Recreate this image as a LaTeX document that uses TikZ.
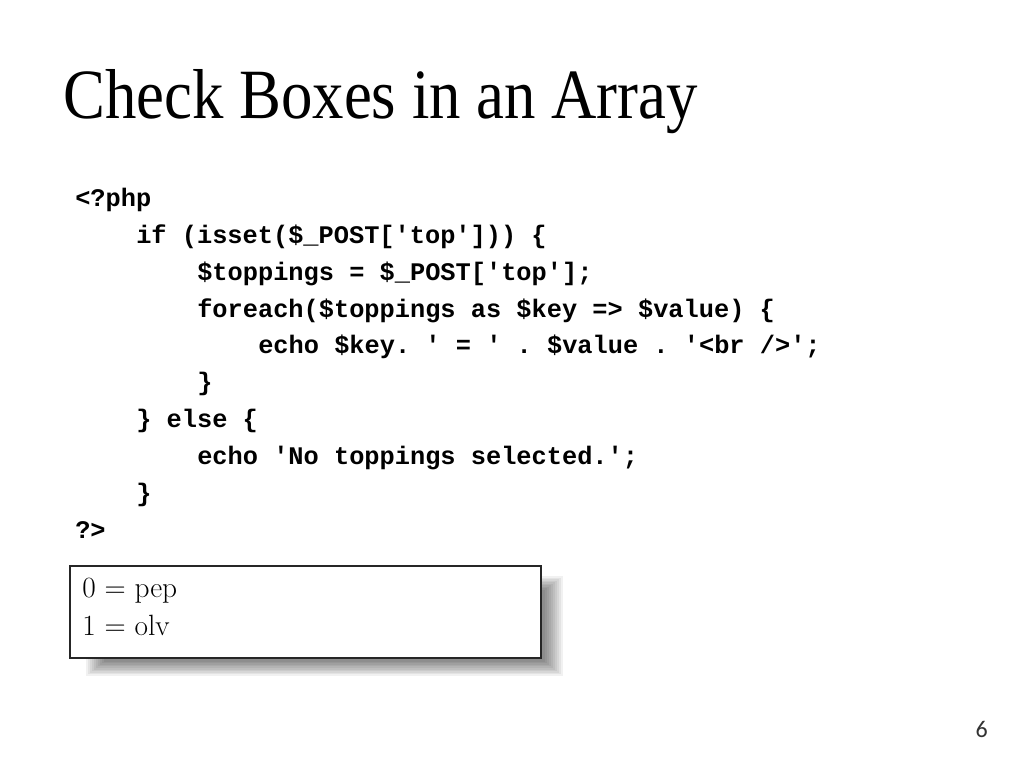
\documentclass[tikz,border=0pt]{standalone}
\usepackage{fontspec}
\setmainfont{Liberation Serif}
\newfontfamily\codefont{Liberation Mono}
\newfontfamily\numfont{Carlito}
\newfontfamily\lmfont{Latin Modern Roman}
\begin{document}
\begin{tikzpicture}[x=0.75pt,y=-0.75pt,
  codeline/.style={anchor=base west,inner sep=0pt,font=\codefont\bfseries\frenchspacing\fontsize{19}{19}\selectfont},
  outline/.style={anchor=base west,inner sep=0pt,font=\lmfont\fontsize{22}{22}\selectfont}]
\useasboundingbox[fill=white] (0,0) rectangle (1024,768);
% title
\node[anchor=base west,inner sep=0pt] (title) at (63,118)
  {\resizebox{476pt}{\height}{\fontsize{53}{53}\selectfont Check Boxes in an Array}};
% code
\node[codeline] (l1) at (75,206) {<?php};
\node[codeline] (l2) at (136,243) {if (isset(\$\_POST['top'])) \{};
\node[codeline] (l3) at (197,280) {\$toppings = \$\_POST['top'];};
\node[codeline] (l4) at (197,317) {foreach(\$toppings as \$key => \$value) \{};
\node[codeline] (l5) at (258,353) {echo \$key. ' = ' . \$value . '<br />';};
\node[codeline] (l6) at (197,390) {\}};
\node[codeline] (l7) at (136,427) {\} else \{};
\node[codeline] (l8) at (197,464) {echo 'No toppings selected.';};
\node[codeline] (l9) at (136,501) {\}};
\node[codeline] (l10) at (75,538) {?>};
% output box with shadow
\foreach \i in {0,...,9}{
  \fill[black,opacity=0.055] (86+2*\i,576+1.5*\i) rectangle (563-2*\i,676-1.6*\i);
}
\node[draw=black!85,line width=1.4pt,fill=white,minimum width=471*0.75pt,minimum height=92*0.75pt,inner sep=0pt,anchor=north west] (box) at (69,565) {};
\node[outline] (o1) at (82,597) {0 = pep};
\node[outline] (o2) at (82,635) {1 = olv};
% page number
\node[anchor=base east,inner sep=0pt,font=\numfont\fontsize{18}{18}\selectfont,text=black!80] (pg) at (988,737) {6};
\end{tikzpicture}
\end{document}
